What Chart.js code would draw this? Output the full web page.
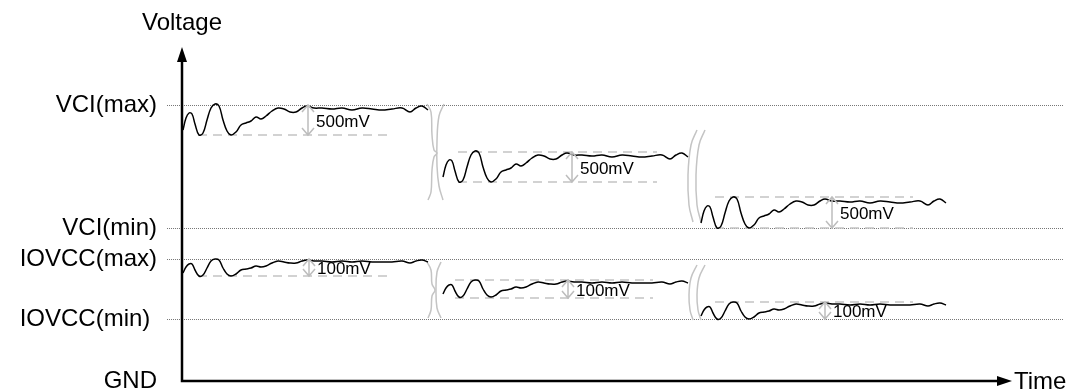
<!DOCTYPE html>
<html>
<head>
<meta charset="utf-8">
<script src="https://cdn.jsdelivr.net/npm/chart.js@4.4.1/dist/chart.umd.min.js"></script>
<style>
  html, body { margin: 0; padding: 0; background: #fff; }
  canvas { display: block; }
</style>
</head>
<body>
<canvas id="chart" width="1073" height="392"></canvas>
<script>
// voltage levels on the y axis
const levelValues = [0, 62, 122, 153, 276];
const levelLabels = ['GND', 'IOVCC(min) ', 'IOVCC(max)', 'VCI(min)', 'VCI(max)'];

// time samples of the three supply steps
const segX1 = [1, 4, 7, 10, 13, 17, 21, 25, 29, 33, 37, 41, 45, 49, 54, 59, 64, 69, 74, 79, 84, 90, 96, 102, 108, 114, 120, 125, 132, 140, 150, 160, 170, 180, 190, 200, 210, 220, 228, 234, 240, 246];
const segX2 = [261, 264, 267, 270, 273, 277, 281, 285, 289, 293, 297, 301, 305, 309, 314, 319, 324, 329, 334, 339, 344, 350, 356, 362, 368, 374, 380, 385, 392, 400, 410, 420, 430, 440, 450, 460, 470, 480, 488, 494, 500, 506];
const segX3 = [519, 522, 525, 528, 531, 535, 539, 543, 547, 551, 555, 559, 563, 567, 572, 577, 582, 587, 592, 597, 602, 608, 614, 620, 626, 632, 638, 643, 650, 658, 668, 678, 688, 698, 708, 718, 728, 738, 746, 752, 758, 764];

// VCI waveform
const vciY1 = [251, 263, 268, 267, 257, 246, 248, 261, 273, 277, 275, 261, 250, 246, 249, 256, 258, 260, 264, 262, 265, 270, 273, 272, 269, 269, 273, 275, 273, 273, 272, 273, 271, 273, 272, 271, 272, 273, 269, 273, 275, 271];
const vciY2 = [204, 216, 221, 220, 210, 199, 201, 214, 226, 230, 228, 214, 203, 199, 202, 209, 211, 213, 217, 215, 218, 223, 226, 225, 222, 222, 226, 228, 226, 226, 225, 226, 224, 226, 225, 224, 225, 226, 222, 226, 228, 224];
const vciY3 = [158, 170, 175, 174, 164, 153, 155, 168, 180, 184, 182, 168, 157, 153, 156, 163, 165, 167, 171, 169, 172, 177, 180, 179, 176, 176, 180, 182, 180, 180, 179, 180, 178, 180, 179, 178, 179, 180, 176, 180, 182, 178];

// IOVCC waveform
const iovccY1 = [108, 114, 117, 117, 111, 105, 106, 113, 120, 122, 121, 113, 107, 105, 107, 111, 112, 113, 115, 114, 115, 118, 120, 119, 118, 118, 120, 121, 120, 120, 119, 120, 119, 120, 119, 119, 119, 120, 118, 120, 121, 119];
const iovccY2 = [87, 93, 96, 96, 90, 84, 85, 92, 99, 101, 100, 92, 86, 84, 86, 90, 91, 92, 94, 93, 94, 97, 99, 98, 97, 97, 99, 100, 99, 99, 98, 99, 98, 99, 98, 98, 98, 99, 97, 99, 100, 98];
const iovccY3 = [65, 71, 74, 74, 68, 62, 63, 70, 77, 79, 78, 70, 64, 62, 64, 68, 69, 70, 72, 71, 72, 75, 77, 76, 75, 75, 77, 78, 77, 77, 76, 77, 76, 77, 76, 76, 76, 77, 75, 77, 78, 76];

// ripple bands (dashed limits)
const dashY = [246, 229, 199, 184, 153, 105, 101, 83, 79];
const dashFrom = [16, 276, 276, 533, 533, 16, 273, 273, 533];
const dashTo = [211, 475, 475, 731, 731, 211, 471, 471, 731];

// ripple arrows
const arrowX = [126, 390, 650, 127, 386, 643];
const arrowLo = [246, 199, 153, 105, 83, 62];
const arrowHi = [276, 229, 184, 122, 101, 79];
const arrowText = ['500mV', '500mV', '500mV', '100mV', '100mV', '100mV'];

// break marks between steps
const breakX = [
  [245, 249, 250, 252, 255, 252, 250, 249, 246],
  [262, 257, 255, 255, 257, 261],
  [515, 509, 506, 507, 511],
  [523, 517, 514, 515, 519],
  [245, 249, 250, 253, 250, 249, 246],
  [259, 255, 254, 255, 259],
  [515, 509, 507, 508, 511],
  [523, 517, 515, 516, 519],
];
const breakY = [
  [277, 269, 246, 231, 228, 224, 211, 189, 181],
  [277, 265, 240, 215, 195, 181],
  [251, 236, 206, 176, 159],
  [251, 236, 206, 176, 159],
  [119, 111, 97, 91, 85, 71, 63],
  [119, 109, 91, 73, 63],
  [116, 103, 86, 71, 61],
  [116, 103, 86, 71, 61],
];

const timeAxisEnd = 830;
const FONT = '"Liberation Sans", Arial, sans-serif';

function pts(xs, ys) {
  return xs.map((v, i) => ({ x: v, y: ys[i] }));
}

const datasets = [];
[[segX1, vciY1], [segX2, vciY2], [segX3, vciY3], [segX1, iovccY1], [segX2, iovccY2], [segX3, iovccY3]].forEach(([xs, ys]) => {
  datasets.push({ data: pts(xs, ys), borderColor: '#000', borderWidth: 1.5, tension: 0.4, pointRadius: 0, order: 1 });
});
dashY.forEach((v, i) => {
  datasets.push({ data: [{ x: dashFrom[i], y: v }, { x: dashTo[i], y: v }], borderColor: '#c4c4c4', borderWidth: 1.5, borderDash: [9, 6], pointRadius: 0, order: 2 });
});
breakX.forEach((xs, i) => {
  datasets.push({ data: pts(xs, breakY[i]), borderColor: '#c4c4c4', borderWidth: 1.5, tension: 0.4, pointRadius: 0, order: 2 });
});

const overlay = {
  id: 'overlay',
  afterDatasetsDraw(chart) {
    const { ctx, chartArea, scales: { x, y } } = chart;
    ctx.save();
    ctx.lineWidth = 1.5;
    arrowX.forEach((v, i) => {
      const px = x.getPixelForValue(v);
      const top = y.getPixelForValue(arrowHi[i]);
      const bot = y.getPixelForValue(arrowLo[i]);
      ctx.strokeStyle = '#bdbdbd';
      ctx.beginPath();
      ctx.moveTo(px, top);
      ctx.lineTo(px, bot);
      ctx.moveTo(px - 6, top + 7);
      ctx.lineTo(px, top);
      ctx.lineTo(px + 6, top + 7);
      ctx.moveTo(px - 6, bot - 7);
      ctx.lineTo(px, bot);
      ctx.lineTo(px + 6, bot - 7);
      ctx.stroke();
      ctx.fillStyle = '#000';
      ctx.font = '17px ' + FONT;
      ctx.textBaseline = 'middle';
      ctx.textAlign = 'left';
      ctx.fillText(arrowText[i], px + 8, (top + bot) / 2 + 2);
    });

    // axes with arrow heads
    const x0 = chartArea.left;
    const y0 = chartArea.bottom;
    const xEnd = x.getPixelForValue(timeAxisEnd);
    const yEnd = chartArea.top;
    ctx.strokeStyle = '#000';
    ctx.fillStyle = '#000';
    ctx.lineWidth = 2.5;
    ctx.beginPath();
    ctx.moveTo(x0, y0);
    ctx.lineTo(x0, yEnd + 10);
    ctx.moveTo(x0 - 1.25, y0);
    ctx.lineTo(xEnd - 10, y0);
    ctx.stroke();
    ctx.beginPath();
    ctx.moveTo(x0, yEnd);
    ctx.lineTo(x0 - 5, yEnd + 15);
    ctx.lineTo(x0 + 5, yEnd + 15);
    ctx.closePath();
    ctx.fill();
    ctx.beginPath();
    ctx.moveTo(xEnd, y0);
    ctx.lineTo(xEnd - 15, y0 - 5);
    ctx.lineTo(xEnd - 15, y0 + 5);
    ctx.closePath();
    ctx.fill();

    ctx.font = '24px ' + FONT;
    ctx.textBaseline = 'middle';
    ctx.textAlign = 'center';
    ctx.fillText('Voltage', x0, 23);
    ctx.textAlign = 'left';
    ctx.fillText('Time', xEnd + 2, y0 + 1);
    ctx.restore();
  },
};

new Chart(document.getElementById('chart'), {
  type: 'line',
  data: { datasets },
  options: {
    responsive: false,
    animation: false,
    devicePixelRatio: 1,
    layout: { padding: { top: 47, bottom: 11, right: 10, left: 0 } },
    plugins: { legend: { display: false }, tooltip: { enabled: false } },
    scales: {
      x: { type: 'linear', min: 0, max: 881, display: false },
      y: {
        type: 'linear',
        min: 0,
        max: 334,
        afterBuildTicks(scale) {
          scale.ticks = levelValues.map((v) => ({ value: v }));
        },
        afterFit(scale) {
          scale.width = 182;
          scale.paddingTop = 0;
          scale.paddingBottom = 0;
        },
        ticks: {
          padding: 10,
          color: '#000',
          font: { size: 24, family: FONT },
          callback: (value) => levelLabels[levelValues.indexOf(value)],
        },
        grid: {
          color: (c) => (c.tick && c.tick.value === 0 ? 'rgba(0,0,0,0)' : '#777'),
          lineWidth: 1,
          tickLength: 15,
          tickBorderDash: [1, 1],
        },
        border: { display: false, dash: [1, 1] },
      },
    },
  },
  plugins: [overlay],
});
</script>
</body>
</html>
